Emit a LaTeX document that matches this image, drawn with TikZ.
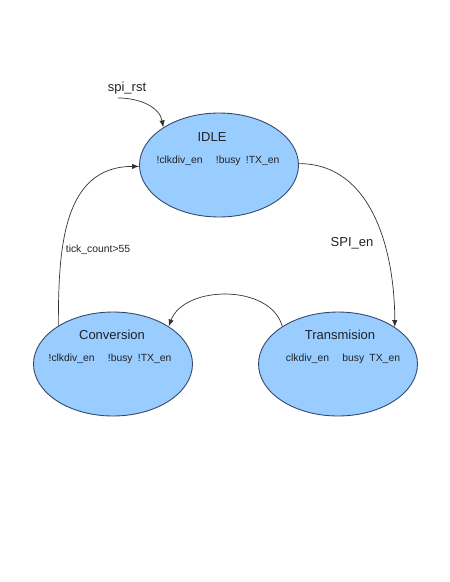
\documentclass[tikz,border=0pt]{standalone}
\usepackage{xcolor}
\usepackage{fontspec}
\setmainfont{Liberation Sans}
\usepackage{tikz}
\usetikzlibrary{shapes,arrows,positioning}

\definecolor{statefill}{HTML}{99CCFF}
\definecolor{stateline}{HTML}{34466A}
\definecolor{labeltext}{HTML}{222222}

\tikzset{
    state/.style={
        ellipse,
        draw=stateline,
        line width=0.5pt,
        fill=statefill,
        minimum width=3.18cm,
        minimum height=2.08cm,
        inner sep=0pt
    },
    title/.style={
        font=\fontsize{7.4}{8}\selectfont,
        text=labeltext,
        inner sep=0pt
    },
    signals/.style={
        font=\fontsize{5.9}{7}\selectfont,
        text=labeltext,
        inner sep=0pt
    },
    trans/.style={
        -latex,
        line width=0.4pt,
        color=black!80
    }
}

\begin{document}
\begin{tikzpicture}[x=0.02cm,y=-0.02cm]
                \useasboundingbox (0,0) rectangle (450,582);

                % states
                \node[state] (idle) at (219,165) {};
                \node[state] (conv) at (113,364) {};
                \node[state] (transm) at (338,364) {};

                \node[title] (idletitle) at (212,137) {IDLE};
                \node[signals] (idlesig) at (218,161)
                    {!clkdiv\_en\hspace{7.5pt}!busy\hspace{3pt}!TX\_en};

                \node[title] (convtitle) at (112,335) {Conversion};
                \node[signals] (convsig) at (110,359)
                    {!clkdiv\_en\hspace{7.5pt}!busy\hspace{3pt}!TX\_en};

                \node[title] (transmtitle) at (340,335) {Transmision};
                \node[signals] (transmsig) at (343,359)
                    {clkdiv\_en\hspace{7.5pt}busy\hspace{3pt}TX\_en};

                % reset
                \node[title] (rst) at (127,88) {spi\_rst};
                \coordinate (rststart) at (118,98);
                \draw[trans] (rststart) to[out=0,in=100] (idle.146);

                % transitions
                \draw[trans] (conv.145) to[out=90,in=180,looseness=1.1] (idle.181);
                \node[signals] (tick) at (98,250) {tick\_count>55};

                \draw[trans] (idle.1) to[out=0,in=90] (transm.33);
                \node[title] (spien) at (352,243) {SPI\_en};

                \draw[trans] (transm.146) to[out=105,in=70] (conv.34);

            \end{tikzpicture}
\end{document}
